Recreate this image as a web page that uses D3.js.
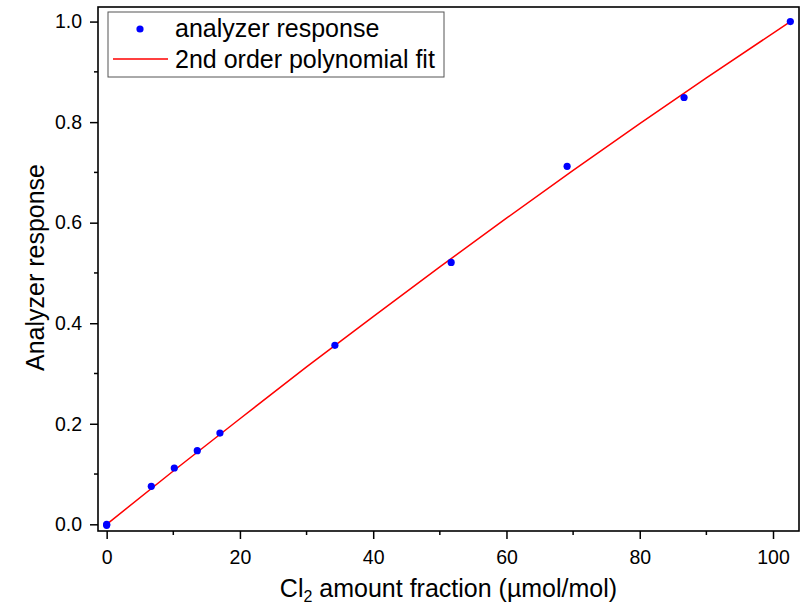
<!DOCTYPE html>
<html>
<head>
<meta charset="utf-8">
<script src="https://cdn.jsdelivr.net/npm/d3@7"></script>
<style>
  body { margin: 0; background: #fff; }
  text { font-family: "Liberation Sans", Arial, sans-serif; fill: #000; }
</style>
</head>
<body>
<div class="chart"></div>
<script>
// measured points
var amountFraction = [0, 0, 6.7, 10.15, 13.6, 17.0, 34.25, 51.7, 69.1, 86.65, 102.6];
var response = [0.0, -0.002, 0.0755, 0.112, 0.1465, 0.1815, 0.356, 0.521, 0.712, 0.849, 1.0];

// fitted curve
var fitX = [0, 10, 20, 30, 40, 50, 60, 70, 80, 90, 102.6];
var fitY = [0.0, 0.106, 0.210, 0.313, 0.413, 0.512, 0.609, 0.704, 0.797, 0.888, 1.0];

var xTicks = [0, 20, 40, 60, 80, 100];
var xMinor = [10, 30, 50, 70, 90];
var yTicks = [0, 0.2, 0.4, 0.6, 0.8, 1.0];
var yMinor = [0.1, 0.3, 0.5, 0.7, 0.9];

var svgWidth = 811;
var svgHeight = 607;

var margin = { top: 7, right: 12, bottom: 76, left: 98 };
var width = svgWidth - margin.left - margin.right;
var height = svgHeight - margin.top - margin.bottom;

var svg = d3.select(".chart")
  .append("svg")
  .attr("width", svgWidth)
  .attr("height", svgHeight);

var chartGroup = svg.append("g")
  .attr("transform", `translate(${margin.left}, ${margin.top})`);

var xScale = d3.scaleLinear().domain([-1.3, 103.9]).range([0, width]);
var yScale = d3.scaleLinear().domain([-0.0133, 1.029]).range([height, 0]);

// axes
var bottomAxis = d3.axisBottom(xScale).tickValues(xTicks).tickFormat(d3.format("d"))
  .tickSizeInner(8).tickSizeOuter(0).tickPadding(11);
var leftAxis = d3.axisLeft(yScale).tickValues(yTicks).tickFormat(d3.format(".1f"))
  .tickSizeInner(8).tickSizeOuter(0).tickPadding(8);

var xAxis = chartGroup.append("g")
  .attr("transform", `translate(0, ${height})`)
  .call(bottomAxis);
xAxis.append("g").selectAll("line").data(xMinor).enter().append("line")
  .attr("x1", d => xScale(d)).attr("x2", d => xScale(d))
  .attr("y1", 0).attr("y2", 4).attr("stroke", "#000");

var yAxis = chartGroup.append("g").call(leftAxis);
yAxis.append("g").selectAll("line").data(yMinor).enter().append("line")
  .attr("y1", d => yScale(d)).attr("y2", d => yScale(d))
  .attr("x1", 0).attr("x2", -4).attr("stroke", "#000");

[xAxis, yAxis].forEach(function(ax) {
  ax.select(".domain").remove();
  ax.selectAll("line").attr("stroke-width", 1.5);
  ax.selectAll(".tick text").style("font-size", "19.5px").style("font-family", "Liberation Sans, Arial, sans-serif");
});

// fit line
var line = d3.line()
  .x(d => xScale(d[0]))
  .y(d => yScale(d[1]));
chartGroup.append("path")
  .datum(fitX.map((x, i) => [x, fitY[i]]))
  .attr("d", line)
  .attr("fill", "none")
  .attr("stroke", "#ff0000")
  .attr("stroke-width", 1.5);

// points
chartGroup.selectAll("circle.pt")
  .data(amountFraction)
  .enter()
  .append("circle")
  .attr("class", "pt")
  .attr("cx", d => xScale(d))
  .attr("cy", (d, i) => yScale(response[i]))
  .attr("r", 3.6)
  .attr("fill", "#0000ff");

// frame
chartGroup.append("rect")
  .attr("x", 0).attr("y", 0)
  .attr("width", width).attr("height", height)
  .attr("fill", "none")
  .attr("stroke", "#000")
  .attr("stroke-width", 1.6);

// legend
var legend = chartGroup.append("g").attr("transform", "translate(10, 5)");
legend.append("rect")
  .attr("x", 0).attr("y", 0)
  .attr("width", 336).attr("height", 65)
  .attr("fill", "#fff")
  .attr("stroke", "#555")
  .attr("stroke-width", 1);
legend.append("circle")
  .attr("cx", 32).attr("cy", 17).attr("r", 3.6).attr("fill", "#0000ff");
legend.append("text")
  .attr("x", 67).attr("y", 25)
  .style("font-size", "25px")
  .text("analyzer response");
legend.append("line")
  .attr("x1", 5).attr("x2", 60).attr("y1", 47).attr("y2", 47)
  .attr("stroke", "#ff0000").attr("stroke-width", 1.5);
legend.append("text")
  .attr("x", 67).attr("y", 56)
  .style("font-size", "25px")
  .text("2nd order polynomial fit");

// axis titles
var xTitle = svg.append("text")
  .attr("x", 448.5)
  .attr("y", 597)
  .attr("text-anchor", "middle")
  .style("font-size", "25px");
xTitle.append("tspan").text("Cl");
xTitle.append("tspan").attr("dy", 5).style("font-size", "16px").text("2");
xTitle.append("tspan").attr("dy", -5).text(" amount fraction (µmol/mol)");

svg.append("text")
  .attr("transform", "translate(43.5, 267.5) rotate(-90)")
  .attr("text-anchor", "middle")
  .style("font-size", "25px")
  .text("Analyzer response");
</script>
</body>
</html>
